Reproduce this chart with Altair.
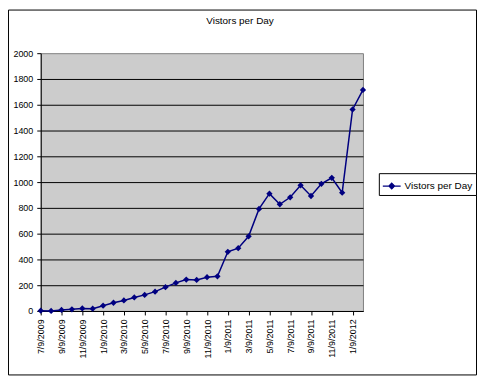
import altair as alt
import pandas as pd

NAVY = "#000080"
FONT = "Liberation Sans, Arial, sans-serif"

title_text = "Vistors per Day"

months = [
    "7/9/2009", "8/9/2009", "9/9/2009", "10/9/2009", "11/9/2009", "12/9/2009",
    "1/9/2010", "2/9/2010", "3/9/2010", "4/9/2010", "5/9/2010", "6/9/2010",
    "7/9/2010", "8/9/2010", "9/9/2010", "10/9/2010", "11/9/2010", "12/9/2010",
    "1/9/2011", "2/9/2011", "3/9/2011", "4/9/2011", "5/9/2011", "6/9/2011",
    "7/9/2011", "8/9/2011", "9/9/2011", "10/9/2011", "11/9/2011", "12/9/2011",
    "1/9/2012", "2/9/2012",
]

visitors = [
    2, 0, 8, 13, 20, 18,
    41, 64, 82, 105, 125, 150,
    185, 218, 244, 241, 262, 269,
    459, 487, 579, 792, 910, 828,
    882, 975, 892, 987, 1033, 918,
    1564, 1715,
]

x_tick_labels = [
    "7/9/2009", "9/9/2009", "11/9/2009", "1/9/2010", "3/9/2010", "5/9/2010",
    "7/9/2010", "9/9/2010", "11/9/2010", "1/9/2011", "3/9/2011", "5/9/2011",
    "7/9/2011", "9/9/2011", "11/9/2011", "1/9/2012",
]

y_ticks = [0, 200, 400, 600, 800, 1000, 1200, 1400, 1600, 1800, 2000]

df = pd.DataFrame({
    "month": months,
    "visitors": visitors,
    "series": [title_text] * len(months),
})

x_enc = alt.X(
    "month:O",
    sort=months,
    scale=alt.Scale(type="point", padding=0),
    axis=alt.Axis(
        values=x_tick_labels,
        labelAngle=270,
        title=None,
        grid=False,
        tickSize=4,
        labelPadding=4,
        labelFont=FONT,
        labelFontSize=9,
        labelColor="black",
        tickColor="black",
        domainColor="black",
        labelOverlap=False,
    ),
)

y_enc = alt.Y(
    "visitors:Q",
    scale=alt.Scale(domain=[0, 2000], nice=False, zero=True),
    axis=alt.Axis(
        values=y_ticks,
        format="d",
        title=None,
        grid=True,
        gridColor="black",
        gridWidth=1,
        gridOpacity={"condition": {"test": "datum.value === 2000", "value": 0}, "value": 1},
        tickSize=4,
        labelPadding=4,
        labelFont=FONT,
        labelFontSize=9,
        labelColor="black",
        tickColor="black",
        domainColor="black",
    ),
)

base = alt.Chart(df).encode(x=x_enc, y=y_enc)

line = base.mark_line(color=NAVY, strokeWidth=1.5)

points = base.mark_point(shape="diamond", filled=True, size=40, opacity=1).encode(
    color=alt.Color(
        "series:N",
        scale=alt.Scale(range=[NAVY]),
        legend=alt.Legend(
            title=None,
            orient="none",
            legendX=341,
            legendY=121,
            strokeColor="black",
            fillColor="white",
            padding=3,
            symbolType="M-1,0L1,0M0,-0.32L0.32,0L0,0.32L-0.32,0Z",
            symbolSize=324,
            symbolFillColor=NAVY,
            symbolStrokeColor=NAVY,
            symbolStrokeWidth=1.2,
            labelFont=FONT,
            labelFontSize=10,
            labelColor="black",
            labelOffset=3,
        ),
    )
)

border = alt.Chart(pd.DataFrame({"b": [1]})).mark_rect(
    fill="transparent", stroke="black", strokeWidth=1
).encode(
    x=alt.value(-32.5), x2=alt.value(439.5),
    y=alt.value(-43.5), y2=alt.value(324.5),
)

title = alt.Chart(pd.DataFrame({"t": [title_text]})).mark_text(
    align="center", baseline="middle", font=FONT, fontSize=10, color="black"
).encode(
    x=alt.value(201), y=alt.value(-32), text="t:N"
)

chart = alt.layer(border, line, points, title).properties(
    width=325,
    height=260,
    padding={"left": 33, "top": 44, "right": 115, "bottom": 65},
    autosize=alt.AutoSizeParams(type="none"),
    background="white",
).configure_view(
    fill="#cccccc",
    stroke="#808080",
)

chart.save("out.html", embed_options={"renderer": "svg", "actions": False})
